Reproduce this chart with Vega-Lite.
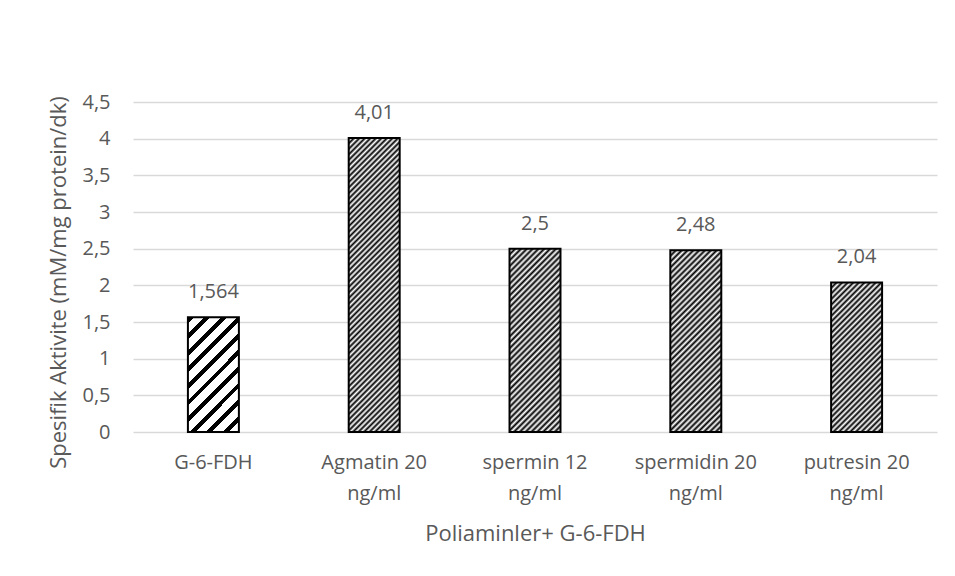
{
  "$schema": "https://vega.github.io/schema/vega-lite/v6.json",
  "width": 804,
  "height": 330,
  "autosize": {"type": "none"},
  "padding": {"left": 133, "top": 102, "right": 18, "bottom": 144},
  "background": "white",
  "config": {
    "locale": {"number": {"decimal": ",", "thousands": ".", "grouping": [3], "currency": ["", " TL"]}},
    "view": {"stroke": null},
    "font": "Open Sans",
    "text": {"font": "Open Sans"}
  },
  "data": {
    "values": [
      {"cat": "G-6-FDH", "val": 1.564},
      {"cat": "Agmatin 20 ng/ml", "val": 4.01},
      {"cat": "spermin 12 ng/ml", "val": 2.5},
      {"cat": "spermidin 20 ng/ml", "val": 2.48},
      {"cat": "putresin 20 ng/ml", "val": 2.04}
    ]
  },
  "encoding": {
    "x": {
      "field": "cat",
      "type": "nominal",
      "scale": {
        "domain": ["G-6-FDH", "Agmatin 20 ng/ml", "spermin 12 ng/ml", "spermidin 20 ng/ml", "putresin 20 ng/ml"],
        "paddingInner": 0.683,
        "paddingOuter": 0.3415
      },
      "axis": {
        "title": "Poliaminler+ G-6-FDH",
        "labelAngle": 0,
        "labelExpr": "indexof(datum.label, ' ng/ml') > 0 ? [replace(datum.label, ' ng/ml', ''), 'ng/ml'] : datum.label",
        "labelLineHeight": 31,
        "labelPadding": 20,
        "labelBaseline": "top",
        "labelFontSize": 20,
        "labelColor": "#595959",
        "labelFont": "Open Sans",
        "labelLimit": 300,
        "ticks": false,
        "tickSize": 0,
        "domain": false,
        "grid": false,
        "titleFont": "Open Sans",
        "titleFontSize": 22,
        "titleFontWeight": "normal",
        "titleColor": "#595959",
        "titleBaseline": "alphabetic",
        "titleY": 108
      }
    },
    "y": {
      "field": "val",
      "type": "quantitative",
      "scale": {"domain": [0, 4.5], "nice": false, "zero": true},
      "axis": {
        "title": "Spesifik Aktivite (mM/mg protein/dk)",
        "values": [0, 0.5, 1, 1.5, 2, 2.5, 3, 3.5, 4, 4.5],
        "format": "~g",
        "grid": true,
        "gridColor": "#d9d9d9",
        "gridWidth": 1.5,
        "domain": false,
        "ticks": false,
        "tickSize": 0,
        "labelPadding": 23,
        "labelFontSize": 20,
        "labelColor": "#595959",
        "labelFont": "Open Sans",
        "titleFont": "Open Sans",
        "titleFontSize": 22,
        "titleFontWeight": "normal",
        "titleColor": "#595959",
        "titleAngle": 270,
        "titleAlign": "center",
        "titleBaseline": "alphabetic",
        "titleX": -68,
        "titleY": 180
      }
    }
  },
  "layer": [
    {
      "transform": [{"filter": "datum.cat == 'G-6-FDH'"}],
      "mark": {
        "type": "bar",
        "stroke": "#000",
        "strokeWidth": 2,
        "fill": {
          "gradient": "linear", "x1": 0, "y1": 0, "x2": 0.5381, "y2": 1.2061,
          "stops": [
            {"offset": 0, "color": "#000"}, {"offset": 0.035, "color": "#000"}, {"offset": 0.035, "color": "#fff"}, {"offset": 0.1, "color": "#fff"},
            {"offset": 0.1, "color": "#000"}, {"offset": 0.135, "color": "#000"}, {"offset": 0.135, "color": "#fff"}, {"offset": 0.2, "color": "#fff"},
            {"offset": 0.2, "color": "#000"}, {"offset": 0.235, "color": "#000"}, {"offset": 0.235, "color": "#fff"}, {"offset": 0.3, "color": "#fff"},
            {"offset": 0.3, "color": "#000"}, {"offset": 0.335, "color": "#000"}, {"offset": 0.335, "color": "#fff"}, {"offset": 0.4, "color": "#fff"},
            {"offset": 0.4, "color": "#000"}, {"offset": 0.435, "color": "#000"}, {"offset": 0.435, "color": "#fff"}, {"offset": 0.5, "color": "#fff"},
            {"offset": 0.5, "color": "#000"}, {"offset": 0.535, "color": "#000"}, {"offset": 0.535, "color": "#fff"}, {"offset": 0.6, "color": "#fff"},
            {"offset": 0.6, "color": "#000"}, {"offset": 0.635, "color": "#000"}, {"offset": 0.635, "color": "#fff"}, {"offset": 0.7, "color": "#fff"},
            {"offset": 0.7, "color": "#000"}, {"offset": 0.735, "color": "#000"}, {"offset": 0.735, "color": "#fff"}, {"offset": 0.8, "color": "#fff"},
            {"offset": 0.8, "color": "#000"}, {"offset": 0.835, "color": "#000"}, {"offset": 0.835, "color": "#fff"}, {"offset": 0.9, "color": "#fff"},
            {"offset": 0.9, "color": "#000"}, {"offset": 0.935, "color": "#000"}, {"offset": 0.935, "color": "#fff"}, {"offset": 1, "color": "#fff"}
          ]
        }
      }
    },
    {
      "transform": [{"filter": "datum.cat == 'Agmatin 20 ng/ml'"}],
      "mark": {
        "type": "bar",
        "stroke": "#000",
        "strokeWidth": 2,
        "fill": {
          "gradient": "linear", "x1": 0, "y1": 0, "x2": 0.1982, "y2": 1.1395,
          "stops": [
            {"offset": 0, "color": "#000"}, {"offset": 0.008, "color": "#fff"}, {"offset": 0.016, "color": "#000"}, {"offset": 0.024, "color": "#fff"},
            {"offset": 0.032, "color": "#000"}, {"offset": 0.04, "color": "#fff"}, {"offset": 0.048, "color": "#000"}, {"offset": 0.056, "color": "#fff"},
            {"offset": 0.064, "color": "#000"}, {"offset": 0.072, "color": "#fff"}, {"offset": 0.08, "color": "#000"}, {"offset": 0.088, "color": "#fff"},
            {"offset": 0.096, "color": "#000"}, {"offset": 0.104, "color": "#fff"}, {"offset": 0.112, "color": "#000"}, {"offset": 0.12, "color": "#fff"},
            {"offset": 0.128, "color": "#000"}, {"offset": 0.136, "color": "#fff"}, {"offset": 0.144, "color": "#000"}, {"offset": 0.152, "color": "#fff"},
            {"offset": 0.16, "color": "#000"}, {"offset": 0.168, "color": "#fff"}, {"offset": 0.176, "color": "#000"}, {"offset": 0.184, "color": "#fff"},
            {"offset": 0.192, "color": "#000"}, {"offset": 0.2, "color": "#fff"}, {"offset": 0.208, "color": "#000"}, {"offset": 0.216, "color": "#fff"},
            {"offset": 0.224, "color": "#000"}, {"offset": 0.232, "color": "#fff"}, {"offset": 0.24, "color": "#000"}, {"offset": 0.248, "color": "#fff"},
            {"offset": 0.256, "color": "#000"}, {"offset": 0.264, "color": "#fff"}, {"offset": 0.272, "color": "#000"}, {"offset": 0.28, "color": "#fff"},
            {"offset": 0.288, "color": "#000"}, {"offset": 0.296, "color": "#fff"}, {"offset": 0.304, "color": "#000"}, {"offset": 0.312, "color": "#fff"},
            {"offset": 0.32, "color": "#000"}, {"offset": 0.328, "color": "#fff"}, {"offset": 0.336, "color": "#000"}, {"offset": 0.344, "color": "#fff"},
            {"offset": 0.352, "color": "#000"}, {"offset": 0.36, "color": "#fff"}, {"offset": 0.368, "color": "#000"}, {"offset": 0.376, "color": "#fff"},
            {"offset": 0.384, "color": "#000"}, {"offset": 0.392, "color": "#fff"}, {"offset": 0.4, "color": "#000"}, {"offset": 0.408, "color": "#fff"},
            {"offset": 0.416, "color": "#000"}, {"offset": 0.424, "color": "#fff"}, {"offset": 0.432, "color": "#000"}, {"offset": 0.44, "color": "#fff"},
            {"offset": 0.448, "color": "#000"}, {"offset": 0.456, "color": "#fff"}, {"offset": 0.464, "color": "#000"}, {"offset": 0.472, "color": "#fff"},
            {"offset": 0.48, "color": "#000"}, {"offset": 0.488, "color": "#fff"}, {"offset": 0.496, "color": "#000"}, {"offset": 0.504, "color": "#fff"},
            {"offset": 0.512, "color": "#000"}, {"offset": 0.52, "color": "#fff"}, {"offset": 0.528, "color": "#000"}, {"offset": 0.536, "color": "#fff"},
            {"offset": 0.544, "color": "#000"}, {"offset": 0.552, "color": "#fff"}, {"offset": 0.56, "color": "#000"}, {"offset": 0.568, "color": "#fff"},
            {"offset": 0.576, "color": "#000"}, {"offset": 0.584, "color": "#fff"}, {"offset": 0.592, "color": "#000"}, {"offset": 0.6, "color": "#fff"},
            {"offset": 0.608, "color": "#000"}, {"offset": 0.616, "color": "#fff"}, {"offset": 0.624, "color": "#000"}, {"offset": 0.632, "color": "#fff"},
            {"offset": 0.64, "color": "#000"}, {"offset": 0.648, "color": "#fff"}, {"offset": 0.656, "color": "#000"}, {"offset": 0.664, "color": "#fff"},
            {"offset": 0.672, "color": "#000"}, {"offset": 0.68, "color": "#fff"}, {"offset": 0.688, "color": "#000"}, {"offset": 0.696, "color": "#fff"},
            {"offset": 0.704, "color": "#000"}, {"offset": 0.712, "color": "#fff"}, {"offset": 0.72, "color": "#000"}, {"offset": 0.728, "color": "#fff"},
            {"offset": 0.736, "color": "#000"}, {"offset": 0.744, "color": "#fff"}, {"offset": 0.752, "color": "#000"}, {"offset": 0.76, "color": "#fff"},
            {"offset": 0.768, "color": "#000"}, {"offset": 0.776, "color": "#fff"}, {"offset": 0.784, "color": "#000"}, {"offset": 0.792, "color": "#fff"},
            {"offset": 0.8, "color": "#000"}, {"offset": 0.808, "color": "#fff"}, {"offset": 0.816, "color": "#000"}, {"offset": 0.824, "color": "#fff"},
            {"offset": 0.832, "color": "#000"}, {"offset": 0.84, "color": "#fff"}, {"offset": 0.848, "color": "#000"}, {"offset": 0.856, "color": "#fff"},
            {"offset": 0.864, "color": "#000"}, {"offset": 0.872, "color": "#fff"}, {"offset": 0.88, "color": "#000"}, {"offset": 0.888, "color": "#fff"},
            {"offset": 0.896, "color": "#000"}, {"offset": 0.904, "color": "#fff"}, {"offset": 0.912, "color": "#000"}, {"offset": 0.92, "color": "#fff"},
            {"offset": 0.928, "color": "#000"}, {"offset": 0.936, "color": "#fff"}, {"offset": 0.944, "color": "#000"}, {"offset": 0.952, "color": "#fff"},
            {"offset": 0.96, "color": "#000"}, {"offset": 0.968, "color": "#fff"}, {"offset": 0.976, "color": "#000"}, {"offset": 0.984, "color": "#fff"},
            {"offset": 0.992, "color": "#000"}, {"offset": 1, "color": "#fff"}
          ]
        }
      }
    },
    {
      "transform": [{"filter": "datum.cat == 'spermin 12 ng/ml' || datum.cat == 'spermidin 20 ng/ml'"}],
      "mark": {
        "type": "bar",
        "stroke": "#000",
        "strokeWidth": 2,
        "fill": {
          "gradient": "linear", "x1": 0, "y1": 0, "x2": 0.3325, "y2": 1.187,
          "stops": [
            {"offset": 0, "color": "#000"}, {"offset": 0.0125, "color": "#fff"}, {"offset": 0.025, "color": "#000"}, {"offset": 0.0375, "color": "#fff"},
            {"offset": 0.05, "color": "#000"}, {"offset": 0.0625, "color": "#fff"}, {"offset": 0.075, "color": "#000"}, {"offset": 0.0875, "color": "#fff"},
            {"offset": 0.1, "color": "#000"}, {"offset": 0.1125, "color": "#fff"}, {"offset": 0.125, "color": "#000"}, {"offset": 0.1375, "color": "#fff"},
            {"offset": 0.15, "color": "#000"}, {"offset": 0.1625, "color": "#fff"}, {"offset": 0.175, "color": "#000"}, {"offset": 0.1875, "color": "#fff"},
            {"offset": 0.2, "color": "#000"}, {"offset": 0.2125, "color": "#fff"}, {"offset": 0.225, "color": "#000"}, {"offset": 0.2375, "color": "#fff"},
            {"offset": 0.25, "color": "#000"}, {"offset": 0.2625, "color": "#fff"}, {"offset": 0.275, "color": "#000"}, {"offset": 0.2875, "color": "#fff"},
            {"offset": 0.3, "color": "#000"}, {"offset": 0.3125, "color": "#fff"}, {"offset": 0.325, "color": "#000"}, {"offset": 0.3375, "color": "#fff"},
            {"offset": 0.35, "color": "#000"}, {"offset": 0.3625, "color": "#fff"}, {"offset": 0.375, "color": "#000"}, {"offset": 0.3875, "color": "#fff"},
            {"offset": 0.4, "color": "#000"}, {"offset": 0.4125, "color": "#fff"}, {"offset": 0.425, "color": "#000"}, {"offset": 0.4375, "color": "#fff"},
            {"offset": 0.45, "color": "#000"}, {"offset": 0.4625, "color": "#fff"}, {"offset": 0.475, "color": "#000"}, {"offset": 0.4875, "color": "#fff"},
            {"offset": 0.5, "color": "#000"}, {"offset": 0.5125, "color": "#fff"}, {"offset": 0.525, "color": "#000"}, {"offset": 0.5375, "color": "#fff"},
            {"offset": 0.55, "color": "#000"}, {"offset": 0.5625, "color": "#fff"}, {"offset": 0.575, "color": "#000"}, {"offset": 0.5875, "color": "#fff"},
            {"offset": 0.6, "color": "#000"}, {"offset": 0.6125, "color": "#fff"}, {"offset": 0.625, "color": "#000"}, {"offset": 0.6375, "color": "#fff"},
            {"offset": 0.65, "color": "#000"}, {"offset": 0.6625, "color": "#fff"}, {"offset": 0.675, "color": "#000"}, {"offset": 0.6875, "color": "#fff"},
            {"offset": 0.7, "color": "#000"}, {"offset": 0.7125, "color": "#fff"}, {"offset": 0.725, "color": "#000"}, {"offset": 0.7375, "color": "#fff"},
            {"offset": 0.75, "color": "#000"}, {"offset": 0.7625, "color": "#fff"}, {"offset": 0.775, "color": "#000"}, {"offset": 0.7875, "color": "#fff"},
            {"offset": 0.8, "color": "#000"}, {"offset": 0.8125, "color": "#fff"}, {"offset": 0.825, "color": "#000"}, {"offset": 0.8375, "color": "#fff"},
            {"offset": 0.85, "color": "#000"}, {"offset": 0.8625, "color": "#fff"}, {"offset": 0.875, "color": "#000"}, {"offset": 0.8875, "color": "#fff"},
            {"offset": 0.9, "color": "#000"}, {"offset": 0.9125, "color": "#fff"}, {"offset": 0.925, "color": "#000"}, {"offset": 0.9375, "color": "#fff"},
            {"offset": 0.95, "color": "#000"}, {"offset": 0.9625, "color": "#fff"}, {"offset": 0.975, "color": "#000"}, {"offset": 0.9875, "color": "#fff"},
            {"offset": 1, "color": "#000"}
          ]
        }
      }
    },
    {
      "transform": [{"filter": "datum.cat == 'putresin 20 ng/ml'"}],
      "mark": {
        "type": "bar",
        "stroke": "#000",
        "strokeWidth": 2,
        "fill": {
          "gradient": "linear", "x1": 0, "y1": 0, "x2": 0.411, "y2": 1.2015,
          "stops": [
            {"offset": 0, "color": "#000"}, {"offset": 0.014, "color": "#fff"}, {"offset": 0.028, "color": "#000"}, {"offset": 0.042, "color": "#fff"},
            {"offset": 0.056, "color": "#000"}, {"offset": 0.07, "color": "#fff"}, {"offset": 0.084, "color": "#000"}, {"offset": 0.098, "color": "#fff"},
            {"offset": 0.112, "color": "#000"}, {"offset": 0.126, "color": "#fff"}, {"offset": 0.14, "color": "#000"}, {"offset": 0.154, "color": "#fff"},
            {"offset": 0.168, "color": "#000"}, {"offset": 0.182, "color": "#fff"}, {"offset": 0.196, "color": "#000"}, {"offset": 0.21, "color": "#fff"},
            {"offset": 0.224, "color": "#000"}, {"offset": 0.238, "color": "#fff"}, {"offset": 0.252, "color": "#000"}, {"offset": 0.266, "color": "#fff"},
            {"offset": 0.28, "color": "#000"}, {"offset": 0.294, "color": "#fff"}, {"offset": 0.308, "color": "#000"}, {"offset": 0.322, "color": "#fff"},
            {"offset": 0.336, "color": "#000"}, {"offset": 0.35, "color": "#fff"}, {"offset": 0.364, "color": "#000"}, {"offset": 0.378, "color": "#fff"},
            {"offset": 0.392, "color": "#000"}, {"offset": 0.406, "color": "#fff"}, {"offset": 0.42, "color": "#000"}, {"offset": 0.434, "color": "#fff"},
            {"offset": 0.448, "color": "#000"}, {"offset": 0.462, "color": "#fff"}, {"offset": 0.476, "color": "#000"}, {"offset": 0.49, "color": "#fff"},
            {"offset": 0.504, "color": "#000"}, {"offset": 0.518, "color": "#fff"}, {"offset": 0.532, "color": "#000"}, {"offset": 0.546, "color": "#fff"},
            {"offset": 0.56, "color": "#000"}, {"offset": 0.574, "color": "#fff"}, {"offset": 0.588, "color": "#000"}, {"offset": 0.602, "color": "#fff"},
            {"offset": 0.616, "color": "#000"}, {"offset": 0.63, "color": "#fff"}, {"offset": 0.644, "color": "#000"}, {"offset": 0.658, "color": "#fff"},
            {"offset": 0.672, "color": "#000"}, {"offset": 0.686, "color": "#fff"}, {"offset": 0.7, "color": "#000"}, {"offset": 0.714, "color": "#fff"},
            {"offset": 0.728, "color": "#000"}, {"offset": 0.742, "color": "#fff"}, {"offset": 0.756, "color": "#000"}, {"offset": 0.77, "color": "#fff"},
            {"offset": 0.784, "color": "#000"}, {"offset": 0.798, "color": "#fff"}, {"offset": 0.812, "color": "#000"}, {"offset": 0.826, "color": "#fff"},
            {"offset": 0.84, "color": "#000"}, {"offset": 0.854, "color": "#fff"}, {"offset": 0.868, "color": "#000"}, {"offset": 0.882, "color": "#fff"},
            {"offset": 0.896, "color": "#000"}, {"offset": 0.91, "color": "#fff"}, {"offset": 0.924, "color": "#000"}, {"offset": 0.938, "color": "#fff"},
            {"offset": 0.952, "color": "#000"}, {"offset": 0.966, "color": "#fff"}, {"offset": 0.98, "color": "#000"}, {"offset": 0.994, "color": "#fff"},
            {"offset": 1, "color": "#fff"}
          ]
        }
      }
    },
    {
      "mark": {"type": "text", "baseline": "alphabetic", "dy": -19, "fontSize": 20, "color": "#595959", "font": "Open Sans"},
      "encoding": {
        "text": {"field": "val", "type": "quantitative", "format": "~g"}
      }
    }
  ]
}
